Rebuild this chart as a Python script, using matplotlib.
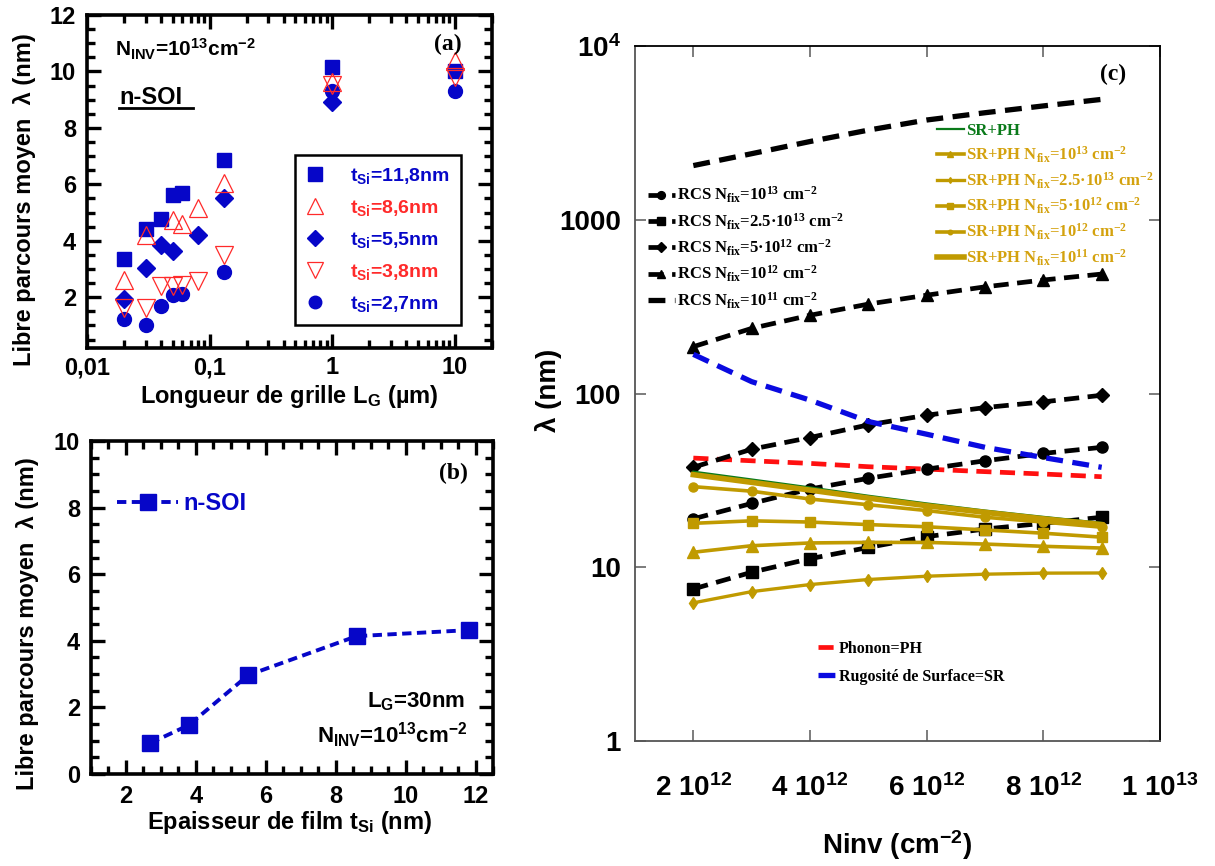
import matplotlib
matplotlib.use('Agg')
import matplotlib.pyplot as plt
from matplotlib.lines import Line2D
from matplotlib.ticker import FixedLocator, MultipleLocator, NullFormatter, FixedFormatter, LogLocator, NullLocator
from matplotlib.font_manager import FontProperties

plt.rcParams['font.family'] = ['Liberation Sans', 'DejaVu Sans']
plt.rcParams['font.weight'] = 'bold'
plt.rcParams['mathtext.default'] = 'regular'

# ---------------- Panel (a) data ----------------
lg_sq = [0.02, 0.03, 0.04, 0.05, 0.06, 0.13, 1.0, 10.0]
lam_sq = [3.35, 4.4, 4.78, 5.62, 5.7, 6.87, 10.14, 10.02]
lg_tu = [0.02, 0.03, 0.05, 0.06, 0.08, 0.13, 1.0, 10.0]
lam_tu = [2.6, 4.2, 4.75, 4.6, 5.15, 6.05, 9.62, 10.38]
lg_di = [0.02, 0.03, 0.04, 0.05, 0.08, 0.13, 1.0]
lam_di = [1.95, 3.02, 3.85, 3.62, 4.2, 5.5, 8.93]
lg_td = [0.02, 0.03, 0.04, 0.05, 0.06, 0.08, 0.13, 1.0, 10.0]
lam_td = [1.62, 1.62, 2.4, 2.4, 2.45, 2.58, 3.5, 9.52, 9.8]
lg_ci = [0.02, 0.03, 0.04, 0.05, 0.06, 0.13, 1.0, 10.0]
lam_ci = [1.22, 1.03, 1.68, 2.08, 2.12, 2.9, 9.32, 9.29]
labels_a = ['t$_{Si}$=11,8nm', 't$_{Si}$=8,6nm', 't$_{Si}$=5,5nm', 't$_{Si}$=3,8nm', 't$_{Si}$=2,7nm']
xticks_a = [0.01, 0.1, 1, 10]
xticklabels_a = ['0,01', '0,1', '1', '10']

# ---------------- Panel (b) data ----------------
tsi_b = [2.7, 3.8, 5.5, 8.6, 11.8]
lam_b = [0.93, 1.47, 2.97, 4.14, 4.32]

# ---------------- Panel (c) data ----------------
ninv = [2e12, 3e12, 4e12, 5e12, 6e12, 7e12, 8e12, 9e12]
rcs_1e11 = [2050, 2400, 2820, 3280, 3750, 4130, 4520, 4930]
rcs_1e12 = [186, 237, 282, 327, 368, 411, 450, 487]
rcs_5e12 = [37.6, 47.8, 55.8, 66.0, 75.0, 83.0, 89.5, 97.7]
rcs_1e13 = [19.0, 23.3, 28.2, 32.5, 36.7, 41.0, 45.2, 49.0]
rcs_25e13 = [7.5, 9.36, 11.2, 13.0, 15.0, 16.6, 17.9, 19.4]
phonon = [42.5, 41.0, 39.6, 37.9, 36.7, 35.5, 34.4, 33.2]
sr = [168, 117, 91.6, 69.0, 58.3, 49.0, 42.8, 37.6]
srph = [35.5, 32.0, 28.8, 25.8, 23.3, 21.2, 19.5, 18.0]
srph_1e11 = [34.1, 30.8, 27.8, 25.0, 22.6, 20.7, 19.0, 17.6]
srph_1e12 = [29.1, 27.4, 24.7, 22.9, 21.2, 19.4, 18.2, 17.0]
srph_5e12 = [17.9, 18.5, 18.2, 17.6, 17.1, 16.4, 15.7, 14.9]
srph_1e13 = [12.2, 13.3, 13.8, 13.9, 13.9, 13.6, 13.2, 12.9]
srph_25e13 = [6.24, 7.24, 7.95, 8.5, 8.88, 9.12, 9.25, 9.27]
xticks_c = [2e12, 4e12, 6e12, 8e12, 1e13]
xticklabels_c = ['2 10$^{12}$', '4 10$^{12}$', '6 10$^{12}$', '8 10$^{12}$', '1 10$^{13}$']
yticks_c = [1, 10, 100, 1000, 10000]
yticklabels_c = ['1', '10', '100', '1000', '10$^{4}$']

W, H = 1215, 866
BLUE = '#0606c8'
RED = '#ff2a2a'
GOLD = '#c09a00'
GOLDT = '#d4a20e'
GREEN = '#0a7a1a'

def box(l, t, r, b):
    return [l / W, 1 - b / H, (r - l) / W, (b - t) / H]

def fx(x):
    return x / W

def fy(y):
    return 1 - y / H

fig = plt.figure(figsize=(W / 100, H / 100), dpi=100)

# ================= Panel (a) =================
axa = fig.add_axes(box(87, 15, 492, 348))
axa.set_xscale('log')
axa.set_xlim(0.01, 20)
axa.set_ylim(0.2, 12)
h1, = axa.plot(lg_sq, lam_sq, ls='none', marker='s', ms=10.5, color=BLUE, zorder=3)
h2, = axa.plot(lg_tu, lam_tu, ls='none', marker='^', ms=13, mfc='none', mec=RED, mew=0.9, zorder=4)
h3, = axa.plot(lg_di, lam_di, ls='none', marker='D', ms=9.5, color=BLUE, zorder=3)
h4, = axa.plot(lg_td, lam_td, ls='none', marker='v', ms=13, mfc='none', mec=RED, mew=0.9, zorder=4)
h5, = axa.plot(lg_ci, lam_ci, ls='none', marker='o', ms=10, color=BLUE, zorder=3)
axa.xaxis.set_major_locator(FixedLocator(xticks_a))
axa.xaxis.set_major_formatter(FixedFormatter(xticklabels_a))
axa.xaxis.set_minor_locator(LogLocator(base=10, subs=[2, 3, 4, 5, 6, 7, 8, 9], numticks=20))
axa.xaxis.set_minor_formatter(NullFormatter())
axa.yaxis.set_major_locator(MultipleLocator(2))
axa.yaxis.set_minor_locator(MultipleLocator(0.5))
for s in axa.spines.values():
    s.set_linewidth(2.6)
axa.tick_params(which='both', direction='in', top=True, right=True, width=2.4, labelsize=17)
axa.tick_params(which='major', length=10, pad=8)
axa.tick_params(axis='x', which='major', pad=6)
axa.tick_params(which='minor', length=6)
leg_a = axa.legend([h1, h2, h3, h4, h5], labels_a, loc='upper left',
                   bbox_to_anchor=(fx(295), fy(155)), bbox_transform=fig.transFigure,
                   frameon=True, fancybox=False, edgecolor='k', framealpha=1,
                   borderpad=0.55, handletextpad=1.3, labelspacing=0.62, fontsize=14,
                   handlelength=1.0, borderaxespad=0, markerscale=0.9)
leg_a.get_frame().set_linewidth(1.8)
for t, c in zip(leg_a.get_texts(), [BLUE, RED, BLUE, RED, BLUE]):
    t.set_color(c)
fig.text(fx(115), fy(57), 'N$_{INV}$=10$^{13}$cm$^{-2}$', fontsize=15, ha='left', va='baseline')
fig.text(fx(119), fy(104), 'n-SOI', fontsize=17, ha='left', va='baseline')
fig.add_artist(Line2D([fx(119), fx(193)], [fy(108), fy(108)], color='k', lw=2))
fig.text(fx(448), fy(50), '(a)', fontsize=17, ha='center', va='baseline', family='Liberation Serif')
fig.text(fx(25), fy(200), 'Libre parcours moyen  \u03bb (nm)', fontsize=17, rotation=90, ha='center', va='center')
fig.text(fx(289), fy(396), 'Longueur de grille L$_G$ (\u00b5m)', fontsize=17, ha='center', va='center')

# ================= Panel (b) =================
axb = fig.add_axes(box(91, 441, 493, 774))
axb.set_xlim(1, 12.5)
axb.set_ylim(0, 10)
axb.plot(tsi_b, lam_b, ls=(0, (2.4, 1.4)), lw=2.8, color=BLUE, marker='s', ms=11, label='n-SOI')
axb.xaxis.set_major_locator(MultipleLocator(2))
axb.xaxis.set_minor_locator(MultipleLocator(0.5))
axb.yaxis.set_major_locator(MultipleLocator(2))
axb.yaxis.set_minor_locator(MultipleLocator(0.5))
for s in axb.spines.values():
    s.set_linewidth(2.6)
axb.tick_params(which='both', direction='in', top=True, right=True, width=2.4, labelsize=17)
axb.tick_params(which='major', length=10, pad=8)
axb.tick_params(which='minor', length=6)
leg_b = axb.legend(loc='upper left', bbox_to_anchor=(fx(117), fy(492)), bbox_transform=fig.transFigure,
                   frameon=False, fontsize=17, handlelength=2.6, handletextpad=0.2, borderpad=0, borderaxespad=0)
for t in leg_b.get_texts():
    t.set_color(BLUE)
fig.text(fx(453), fy(479), '(b)', fontsize=17, ha='center', va='baseline', family='Liberation Serif')
fig.text(fx(465), fy(707), 'L$_G$=30nm', fontsize=16, ha='right', va='baseline')
fig.text(fx(467), fy(743), 'N$_{INV}$=10$^{13}$cm$^{-2}$', fontsize=16, ha='right', va='baseline')
fig.text(fx(28), fy(624), 'Libre parcours moyen  \u03bb (nm)', fontsize=17, rotation=90, ha='center', va='center')
fig.text(fx(290), fy(823), 'Epaisseur de film t$_{Si}$ (nm)', fontsize=17, ha='center', va='center')

# ================= Panel (c) =================
axc = fig.add_axes(box(635, 46, 1160, 741))
axc.set_yscale('log')
axc.set_ylim(1, 1e4)
axc.set_xlim(1e12, 1e13)
DASH = (0, (3.2, 1.8))
axc.plot(ninv, phonon, ls=DASH, lw=3.4, color='#ff1010', zorder=2, label='Phonon=PH')
r1, = axc.plot(ninv, rcs_1e13, ls=DASH, lw=3.4, color='k', marker='o', ms=8, zorder=3, label='RCS N$_{fix}$=10$^{13}$ cm$^{-2}$')
r2, = axc.plot(ninv, rcs_25e13, ls=DASH, lw=3.4, color='k', marker='s', ms=8.5, zorder=3, label='RCS N$_{fix}$=2.5\u00b710$^{13}$ cm$^{-2}$')
r3, = axc.plot(ninv, rcs_5e12, ls=DASH, lw=3.4, color='k', marker='D', ms=7, zorder=3, label='RCS N$_{fix}$=5\u00b710$^{12}$ cm$^{-2}$')
r4, = axc.plot(ninv, rcs_1e12, ls=DASH, lw=3.4, color='k', marker='^', ms=8, zorder=3, label='RCS N$_{fix}$=10$^{12}$ cm$^{-2}$')
r5, = axc.plot(ninv, rcs_1e11, ls=DASH, lw=3.8, color='k', zorder=3, label='RCS N$_{fix}$=10$^{11}$ cm$^{-2}$')
axc.plot(ninv, sr, ls=DASH, lw=3.8, color='#0a0ae0', zorder=3.5, label='Rugosit\u00e9 de Surface=SR')
g0, = axc.plot(ninv, srph, ls='-', lw=1.6, color=GREEN, zorder=4, label='SR+PH')
g1, = axc.plot(ninv, srph_1e13, ls='-', lw=2.6, color=GOLD, marker='^', ms=8, zorder=4.5, label='SR+PH N$_{fix}$=10$^{13}$ cm$^{-2}$')
g2, = axc.plot(ninv, srph_25e13, ls='-', lw=2.4, color=GOLD, marker='d', ms=6, zorder=4.5, label='SR+PH N$_{fix}$=2.5\u00b710$^{13}$ cm$^{-2}$')
g3, = axc.plot(ninv, srph_5e12, ls='-', lw=2.6, color=GOLD, marker='s', ms=7.5, zorder=4.5, label='SR+PH N$_{fix}$=5\u00b710$^{12}$ cm$^{-2}$')
g4, = axc.plot(ninv, srph_1e12, ls='-', lw=2.6, color=GOLD, marker='o', ms=6.5, zorder=4.5, label='SR+PH N$_{fix}$=10$^{12}$ cm$^{-2}$')
g5, = axc.plot(ninv, srph_1e11, ls='-', lw=4.0, color=GOLD, zorder=4.4, label='SR+PH N$_{fix}$=10$^{11}$ cm$^{-2}$')

axc.xaxis.set_major_locator(FixedLocator(xticks_c))
axc.xaxis.set_major_formatter(FixedFormatter(xticklabels_c))
axc.xaxis.set_minor_locator(NullLocator())
axc.yaxis.set_major_locator(FixedLocator(yticks_c))
axc.yaxis.set_major_formatter(FixedFormatter(yticklabels_c))
axc.yaxis.set_minor_locator(NullLocator())
axc.spines['left'].set_color('#555555')
axc.spines['bottom'].set_color('#555555')
for s in axc.spines.values():
    s.set_linewidth(1.3)
axc.tick_params(which='major', direction='in', top=True, right=True, length=8, width=1.2,
                color='#666666', labelsize=20)
axc.tick_params(axis='x', pad=24)
axc.tick_params(axis='y', pad=10)

serif = FontProperties(family='Liberation Serif', weight='bold', size=12)
leg_r = axc.legend([r1, r2, r3, r4, r5], [h.get_label() for h in [r1, r2, r3, r4, r5]],
                   loc='upper left', bbox_to_anchor=(fx(648), fy(185)), bbox_transform=fig.transFigure,
                   frameon=False, prop=serif, handlelength=1.6, handletextpad=0.15, labelspacing=0.36,
                   borderpad=0, borderaxespad=0, markerscale=0.7)
axc.add_artist(leg_r)
gh = [g0, g1, g2, g3, g4, g5]
leg_g = axc.legend(gh, [h.get_label() for h in gh],
                   loc='upper left', bbox_to_anchor=(fx(937), fy(123)), bbox_transform=fig.transFigure,
                   frameon=False, prop=serif, handlelength=1.6, handletextpad=0.15, labelspacing=0.33,
                   borderpad=0, borderaxespad=0, markerscale=0.5)
for t, c in zip(leg_g.get_texts(), [GREEN] + [GOLDT] * 5):
    t.set_color(c)
axc.add_artist(leg_g)
ph_lines = [l for l in axc.get_lines() if l.get_label() in ('Phonon=PH', 'Rugosit\u00e9 de Surface=SR')]
leg_p = axc.legend(ph_lines, [l.get_label() for l in ph_lines],
                   loc='upper left', bbox_to_anchor=(fx(818), fy(641)), bbox_transform=fig.transFigure,
                   frameon=False, prop=FontProperties(family='Liberation Serif', weight='bold', size=11.5),
                   handlelength=1.3, handletextpad=0.0, labelspacing=0.75, borderpad=0, borderaxespad=0)

fig.text(fx(1113), fy(80), '(c)', fontsize=17, ha='center', va='baseline', family='Liberation Serif')
fig.text(fx(548), fy(390), '\u03bb (nm)', fontsize=20, rotation=90, ha='center', va='center')
fig.text(fx(897), fy(845), 'Ninv (cm$^{-2}$)', fontsize=20, ha='center', va='center')

fig.savefig('out.png', dpi=100)
